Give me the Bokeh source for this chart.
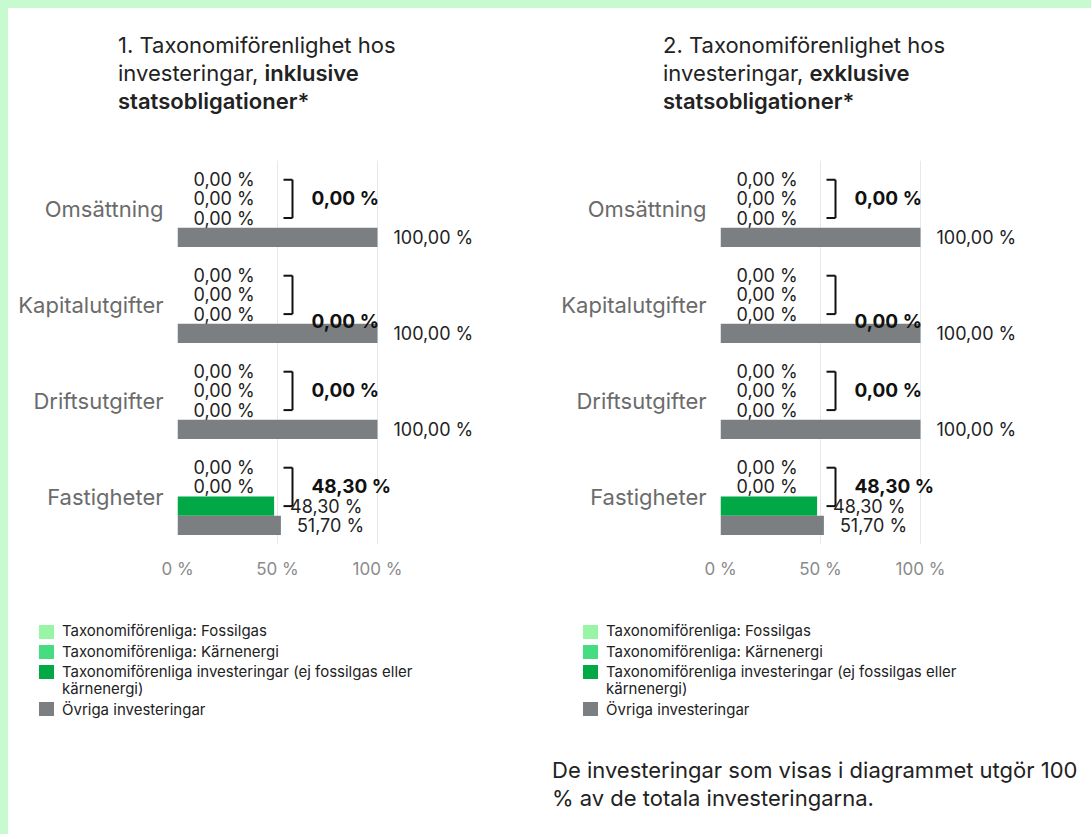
from bokeh.plotting import figure
from bokeh.models import Div, FactorRange, Range1d, FixedTicker, ColumnDataSource
from bokeh.transform import dodge
from bokeh.layouts import row, column
from bokeh.core.properties import value
from bokeh.embed import file_html
from bokeh.resources import INLINE

# ---------------- data ----------------
categories = ["Omsättning", "Kapitalutgifter", "Driftsutgifter", "Fastigheter"]

incl_fossilgas = [0.0, 0.0, 0.0, 0.0]
incl_karnenergi = [0.0, 0.0, 0.0, 0.0]
incl_taxonomi = [0.0, 0.0, 0.0, 48.30]
incl_ovriga = [100.0, 100.0, 100.0, 51.70]

excl_fossilgas = [0.0, 0.0, 0.0, 0.0]
excl_karnenergi = [0.0, 0.0, 0.0, 0.0]
excl_taxonomi = [0.0, 0.0, 0.0, 48.30]
excl_ovriga = [100.0, 100.0, 100.0, 51.70]

x_ticks = [0, 50, 100]
x_tick_labels = ["0 %", "50 %", "100 %"]

series_names = [
    "Taxonomiförenliga: Fossilgas",
    "Taxonomiförenliga: Kärnenergi",
    "Taxonomiförenliga investeringar (ej fossilgas eller kärnenergi)",
    "Övriga investeringar",
]

# ---------------- styles ----------------
FONT = "Inter"
GREEN_BG = "#c8fad0"
colors = ["#99f5a6", "#46dd80", "#00a846", "#7b7f82"]
offsets = [0.3, 0.1, -0.1, -0.3]
sum_offsets = [0.1, -0.18, 0.1, 0.1]


def fmt(v):
    return f"{v:.2f}".replace(".", ",") + " %"


def make_chart(series):
    p = figure(
        y_range=FactorRange(factors=list(reversed(categories))),
        x_range=Range1d(0, 185),
        frame_width=370, frame_height=384,
        min_border_left=169, min_border_right=4,
        min_border_top=10, min_border_bottom=46,
        output_backend="svg", toolbar_location=None,
        outline_line_color=None, border_fill_color="white",
        background_fill_color="white",
    )
    p.margin = 0
    # grid
    p.ygrid.grid_line_color = None
    p.xgrid.ticker = FixedTicker(ticks=x_ticks)
    p.xgrid.grid_line_color = "#e8e8e8"
    p.xgrid.grid_line_width = 1
    # x axis
    p.xaxis.ticker = FixedTicker(ticks=x_ticks)
    p.xaxis.major_label_overrides = {t: l for t, l in zip(x_ticks, x_tick_labels)}
    p.xaxis.axis_line_color = None
    p.xaxis.major_tick_line_color = None
    p.xaxis.minor_tick_line_color = None
    p.xaxis.major_label_text_font = FONT
    p.xaxis.major_label_text_font_size = "17px"
    p.xaxis.major_label_text_color = "#8a8a8a"
    p.xaxis.major_label_standoff = 8
    # y axis
    p.yaxis.axis_line_color = None
    p.yaxis.major_tick_line_color = None
    p.yaxis.minor_tick_line_color = None
    p.yaxis.major_tick_out = 0
    p.yaxis.major_label_text_font = FONT
    p.yaxis.major_label_text_font_size = "22px"
    p.yaxis.major_label_text_color = "#6b6b6b"
    p.yaxis.major_label_standoff = 14

    for vals, col, off in zip(series, colors, offsets):
        src = ColumnDataSource(dict(cat=categories, val=vals, label=[fmt(v) for v in vals]))
        p.hbar(y=dodge("cat", off, range=p.y_range), left=0, right="val", height=0.2,
               source=src, fill_color=col, line_color=None)
    for vals, off in zip(series, offsets):
        src = ColumnDataSource(dict(cat=categories, val=vals, label=[fmt(v) for v in vals]))
        p.text(x="val", y=dodge("cat", off, range=p.y_range), text="label", source=src,
               x_offset=16, text_align="left", text_baseline="middle",
               text_font=value(FONT), text_font_size="18px", text_color="#222222")

    # brackets + sums of taxonomy-aligned series
    sums = [a + b + c for a, b, c in zip(series[0], series[1], series[2])]
    bsrc = ColumnDataSource(dict(cat=categories))
    top = dodge("cat", offsets[0], range=p.y_range)
    bot = dodge("cat", offsets[2], range=p.y_range)
    p.segment(x0=53, y0=top, x1=57.5, y1=top, source=bsrc, line_color="#111111", line_width=2)
    p.segment(x0=53, y0=bot, x1=57.5, y1=bot, source=bsrc, line_color="#111111", line_width=2)
    p.segment(x0=57.5, y0=top, x1=57.5, y1=bot, source=bsrc, line_color="#111111", line_width=2)
    ssrc = ColumnDataSource(dict(
        y=[(c, o) for c, o in zip(categories, sum_offsets)],
        x=[67] * len(categories),
        label=[fmt(s) for s in sums]))
    p.text(x="x", y="y", text="label", source=ssrc, text_align="left",
           text_baseline="middle", text_font=value(FONT), text_font_size="19px",
           text_font_style="bold", text_color="#111111")
    return p


def title_div(num, word, pad_left, width):
    html = (f'<div style="font-family:{FONT};font-size:22px;line-height:28px;color:#222;'
            f'padding-left:{pad_left}px;padding-top:23px;">'
            f'{num}. Taxonomiförenlighet hos<br>investeringar, <span style="font-weight:600">{word}<br>'
            f'statsobligationer*</span></div>')
    return Div(text=html, width=width, height=142, margin=0)


def legend_div(sq_left, txt_left, width):
    tops = [35, 55, 75, 112]
    text_tops = [32, 53, 73, 111]
    parts = []
    for name, col, t, tt in zip(series_names, colors, tops, text_tops):
        if "(" in name:
            name = "Taxonomiförenliga investeringar (ej fossilgas eller<br>kärnenergi)"
        parts.append(f'<div style="position:absolute;left:{sq_left}px;top:{t}px;width:15px;'
                     f'height:14px;background:{col};"></div>')
        parts.append(f'<div style="position:absolute;left:{txt_left}px;top:{tt}px;'
                     f'font-family:{FONT};font-size:15px;line-height:17px;color:#222;">{name}</div>')
    html = f'<div style="position:relative;width:{width}px;height:150px;">' + "".join(parts) + "</div>"
    return Div(text=html, width=width, height=150, margin=0)


p1 = make_chart([incl_fossilgas, incl_karnenergi, incl_taxonomi, incl_ovriga])
p2 = make_chart([excl_fossilgas, excl_karnenergi, excl_taxonomi, excl_ovriga])

left_col = column(title_div(1, "inklusive", 110, 543), p1, legend_div(31, 54, 543),
                  spacing=0, margin=0)
foot = Div(text=(f'<div style="font-family:{FONT};font-size:22px;line-height:28px;color:#222;'
                 f'padding-left:1px;padding-top:16px;">De investeringar som visas i diagrammet utgör 100<br>'
                 f'% av de totala investeringarna.</div>'), width=540, height=94, margin=0)
right_col = column(title_div(2, "exklusive", 112, 540), p2, legend_div(32, 55, 540), foot,
                   spacing=0, margin=0)

green_left = Div(text="", width=8, height=834, margin=0, styles={"background-color": GREEN_BG})
green_top = Div(text="", width=1083, height=8, margin=0, styles={"background-color": GREEN_BG})

root = row(green_left, column(green_top, row(left_col, right_col, spacing=0, margin=0), spacing=0, margin=0),
           spacing=0, margin=0)

open("out.html", "w").write(file_html(root, INLINE))
